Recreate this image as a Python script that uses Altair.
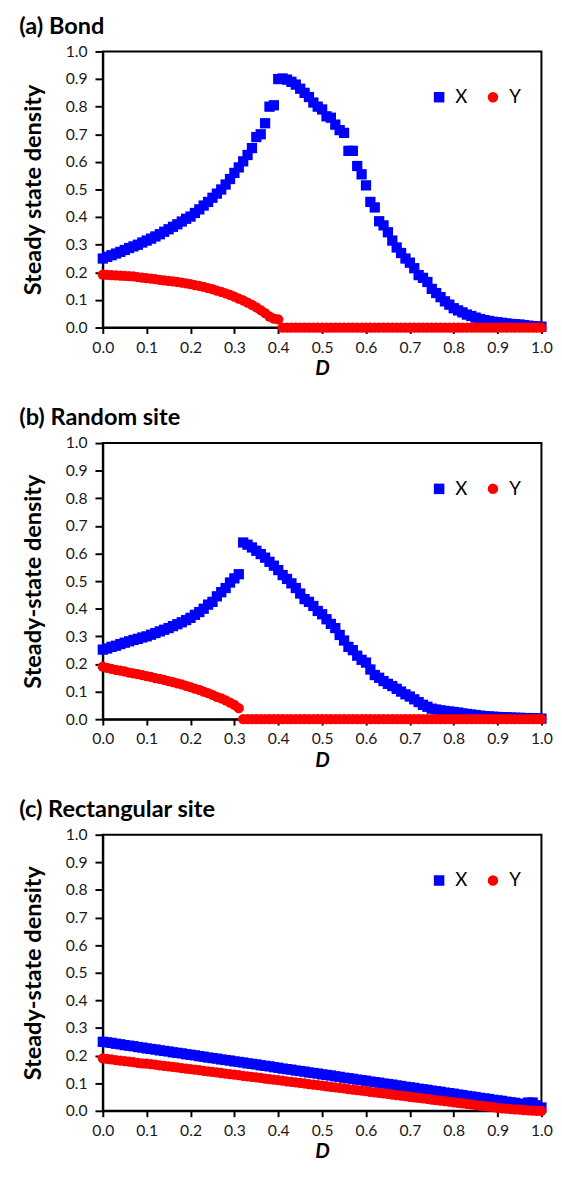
import altair as alt
import pandas as pd

D = [round(i * 0.01, 2) for i in range(101)]

bond_X = [
    0.250, 0.256, 0.262, 0.268, 0.274, 0.281, 0.288, 0.294, 0.300, 0.308,
    0.315, 0.322, 0.330, 0.338, 0.347, 0.356, 0.365, 0.374, 0.384, 0.394,
    0.402, 0.415, 0.428, 0.442, 0.455, 0.470, 0.485, 0.500, 0.518, 0.538,
    0.560, 0.580, 0.602, 0.625, 0.650, 0.690, 0.700, 0.740, 0.800, 0.805,
    0.900, 0.902, 0.898, 0.890, 0.880, 0.865, 0.850, 0.835, 0.815, 0.800,
    0.790, 0.765, 0.760, 0.735, 0.715, 0.705, 0.640, 0.640, 0.585, 0.555,
    0.515, 0.455, 0.435, 0.385, 0.370, 0.345, 0.315, 0.290, 0.270, 0.250,
    0.235, 0.215, 0.190, 0.180, 0.165, 0.140, 0.125, 0.110, 0.095, 0.083,
    0.070, 0.062, 0.055, 0.047, 0.042, 0.036, 0.031, 0.027, 0.024, 0.021,
    0.019, 0.017, 0.015, 0.013, 0.012, 0.011, 0.009, 0.007, 0.005, 0.004,
    0.003,
]
bond_Y = [
    0.192, 0.191, 0.190, 0.189, 0.188, 0.187, 0.186, 0.185, 0.183, 0.181,
    0.179, 0.177, 0.175, 0.173, 0.171, 0.169, 0.167, 0.165, 0.163, 0.160,
    0.157, 0.154, 0.151, 0.147, 0.143, 0.139, 0.134, 0.129, 0.124, 0.118,
    0.112, 0.105, 0.098, 0.090, 0.082, 0.073, 0.063, 0.052, 0.040, 0.032,
    0.030, 0.0, 0.0, 0.0, 0.0, 0.0, 0.0, 0.0, 0.0, 0.0,
    0.0, 0.0, 0.0, 0.0, 0.0, 0.0, 0.0, 0.0, 0.0, 0.0,
    0.0, 0.0, 0.0, 0.0, 0.0, 0.0, 0.0, 0.0, 0.0, 0.0,
    0.0, 0.0, 0.0, 0.0, 0.0, 0.0, 0.0, 0.0, 0.0, 0.0,
    0.0, 0.0, 0.0, 0.0, 0.0, 0.0, 0.0, 0.0, 0.0, 0.0,
    0.0, 0.0, 0.0, 0.0, 0.0, 0.0, 0.0, 0.0, 0.0, 0.0,
    0.0,
]

random_X = [
    0.252, 0.256, 0.262, 0.266, 0.272, 0.277, 0.282, 0.287, 0.291, 0.296,
    0.300, 0.306, 0.312, 0.318, 0.324, 0.330, 0.337, 0.344, 0.351, 0.359,
    0.367, 0.378, 0.388, 0.400, 0.415, 0.425, 0.445, 0.460, 0.475, 0.495,
    0.510, 0.525, 0.640, 0.632, 0.622, 0.610, 0.598, 0.585, 0.570, 0.556,
    0.540, 0.522, 0.508, 0.492, 0.475, 0.455, 0.435, 0.425, 0.410, 0.392,
    0.380, 0.362, 0.345, 0.330, 0.305, 0.285, 0.262, 0.250, 0.230, 0.215,
    0.205, 0.180, 0.160, 0.150, 0.138, 0.128, 0.120, 0.110, 0.100, 0.090,
    0.082, 0.072, 0.062, 0.052, 0.045, 0.038, 0.035, 0.032, 0.030, 0.028,
    0.026, 0.024, 0.021, 0.019, 0.017, 0.015, 0.013, 0.011, 0.010, 0.009,
    0.008, 0.007, 0.007, 0.006, 0.005, 0.005, 0.004, 0.004, 0.003, 0.003,
    0.002,
]
random_Y = [
    0.190, 0.186, 0.182, 0.179, 0.176, 0.173, 0.169, 0.166, 0.163, 0.160,
    0.156, 0.153, 0.149, 0.146, 0.142, 0.138, 0.134, 0.130, 0.126, 0.121,
    0.116, 0.111, 0.106, 0.100, 0.094, 0.088, 0.081, 0.075, 0.068, 0.060,
    0.052, 0.040, 0.0, 0.0, 0.0, 0.0, 0.0, 0.0, 0.0, 0.0,
    0.0, 0.0, 0.0, 0.0, 0.0, 0.0, 0.0, 0.0, 0.0, 0.0,
    0.0, 0.0, 0.0, 0.0, 0.0, 0.0, 0.0, 0.0, 0.0, 0.0,
    0.0, 0.0, 0.0, 0.0, 0.0, 0.0, 0.0, 0.0, 0.0, 0.0,
    0.0, 0.0, 0.0, 0.0, 0.0, 0.0, 0.0, 0.0, 0.0, 0.0,
    0.0, 0.0, 0.0, 0.0, 0.0, 0.0, 0.0, 0.0, 0.0, 0.0,
    0.0, 0.0, 0.0, 0.0, 0.0, 0.0, 0.0, 0.0, 0.0, 0.0,
    0.0,
]

rect_X = [
    0.250, 0.248, 0.246, 0.243, 0.241, 0.238, 0.236, 0.234, 0.231, 0.229,
    0.226, 0.224, 0.222, 0.219, 0.217, 0.215, 0.212, 0.210, 0.208, 0.205,
    0.203, 0.201, 0.198, 0.196, 0.193, 0.191, 0.189, 0.186, 0.184, 0.182,
    0.179, 0.177, 0.175, 0.172, 0.170, 0.168, 0.165, 0.163, 0.161, 0.158,
    0.156, 0.153, 0.151, 0.149, 0.146, 0.144, 0.142, 0.139, 0.137, 0.135,
    0.132, 0.130, 0.128, 0.125, 0.123, 0.120, 0.118, 0.116, 0.113, 0.111,
    0.109, 0.106, 0.104, 0.102, 0.099, 0.097, 0.095, 0.092, 0.090, 0.087,
    0.085, 0.083, 0.080, 0.078, 0.076, 0.073, 0.071, 0.069, 0.066, 0.064,
    0.062, 0.059, 0.057, 0.054, 0.052, 0.050, 0.047, 0.045, 0.043, 0.040,
    0.038, 0.036, 0.033, 0.031, 0.029, 0.026, 0.024, 0.030, 0.030, 0.020,
    0.012,
]
rect_Y = [
    0.190, 0.188, 0.186, 0.184, 0.182, 0.180, 0.178, 0.176, 0.174, 0.172,
    0.171, 0.169, 0.167, 0.165, 0.163, 0.161, 0.159, 0.157, 0.155, 0.153,
    0.151, 0.149, 0.147, 0.145, 0.143, 0.141, 0.139, 0.137, 0.135, 0.133,
    0.131, 0.129, 0.127, 0.125, 0.123, 0.121, 0.119, 0.117, 0.115, 0.113,
    0.111, 0.109, 0.107, 0.105, 0.103, 0.101, 0.099, 0.097, 0.095, 0.093,
    0.091, 0.089, 0.087, 0.085, 0.083, 0.081, 0.079, 0.077, 0.075, 0.073,
    0.071, 0.069, 0.067, 0.065, 0.063, 0.061, 0.059, 0.057, 0.055, 0.053,
    0.051, 0.049, 0.047, 0.045, 0.043, 0.041, 0.039, 0.037, 0.035, 0.033,
    0.031, 0.029, 0.027, 0.025, 0.023, 0.021, 0.019, 0.017, 0.015, 0.013,
    0.011, 0.009, 0.008, 0.006, 0.005, 0.004, 0.003, 0.002, 0.001, 0.000,
    0.000,
]

panels = [
    ("(a) Bond", "Steady state density", bond_X, bond_Y),
    ("(b) Random site", "Steady-state density", random_X, random_Y),
    ("(c) Rectangular site", "Steady-state density", rect_X, rect_Y),
]

FONT = "Lato"
ticks = [round(i * 0.1, 1) for i in range(11)]


def make_panel(title, ytitle, xs, ys):
    df = pd.DataFrame(
        {
            "D": D + D,
            "value": xs + ys,
            "series": ["X"] * len(D) + ["Y"] * len(D),
        }
    )
    return (
        alt.Chart(df)
        .mark_point(filled=True, opacity=1, size=110)
        .encode(
            x=alt.X(
                "D:Q",
                scale=alt.Scale(domain=[0, 1], nice=False),
                axis=alt.Axis(
                    values=ticks,
                    format=".1f",
                    title="D",
                    titleFontStyle="italic",
                    titleFontSize=21,
                    titlePadding=3,
                    tickSize=6,
                    labelPadding=6,
                    labelFlush=False,
                ),
            ),
            y=alt.Y(
                "value:Q",
                scale=alt.Scale(domain=[0, 1], nice=False),
                axis=alt.Axis(
                    values=ticks,
                    format=".1f",
                    title=ytitle,
                    titleFontSize=24,
                    titlePadding=20,
                    tickSize=8,
                    labelPadding=8,
                    labelFlush=False,
                ),
            ),
            color=alt.Color(
                "series:N",
                scale=alt.Scale(domain=["X", "Y"], range=["#0000FF", "#FF0000"]),
                legend=alt.Legend(
                    title=None,
                    orient="none",
                    legendX=334,
                    legendY=37,
                    direction="horizontal",
                    labelFontSize=19,
                    labelFont=FONT,
                    labelColor="#000000",
                    symbolSize=115,
                    symbolOpacity=1,
                    columnPadding=16,
                    labelOffset=7,
                ),
            ),
            shape=alt.Shape(
                "series:N",
                scale=alt.Scale(domain=["X", "Y"], range=["square", "circle"]),
                legend=None,
            ),
        )
        .properties(
            width=448,
            height=282,
            title=alt.TitleParams(
                text=title,
                anchor="start",
                frame="bounds",
                fontSize=24,
                fontWeight="bold",
                font=FONT,
                color="#000000",
                offset=5,
                dx=-3,
            ),
        )
    )


charts = [make_panel(*p) for p in panels]

chart = (
    alt.vconcat(*charts, spacing=27)
    .resolve_scale(color="independent", shape="independent")
    .properties(
        padding={"left": 18, "top": 2, "right": 8, "bottom": 0},
        background="#ffffff",
    )
    .configure_view(stroke="#000000", strokeWidth=2)
    .configure_axis(
        grid=False,
        domainColor="#000000",
        domainWidth=2,
        tickColor="#000000",
        tickWidth=2,
        labelFont=FONT,
        labelFontSize=16,
        labelColor="#1a1a1a",
        titleFont=FONT,
        titleFontWeight="bold",
        titleColor="#000000",
    )
)

chart.save("out.html", embed_options={"renderer": "svg", "actions": False})
